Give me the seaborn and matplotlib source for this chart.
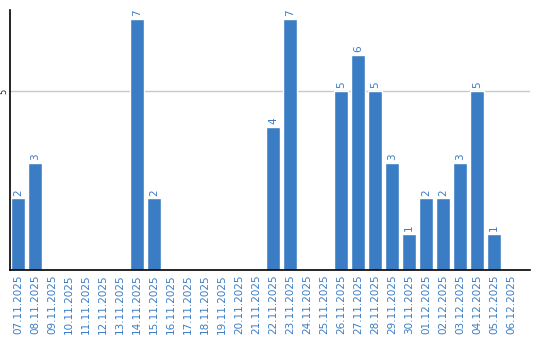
import matplotlib
matplotlib.use("Agg")
import matplotlib.pyplot as plt
import seaborn as sns
import pandas as pd

dates = ["07.11.2025", "08.11.2025", "09.11.2025", "10.11.2025", "11.11.2025",
         "12.11.2025", "13.11.2025", "14.11.2025", "15.11.2025", "16.11.2025",
         "17.11.2025", "18.11.2025", "19.11.2025", "20.11.2025", "21.11.2025",
         "22.11.2025", "23.11.2025", "24.11.2025", "25.11.2025", "26.11.2025",
         "27.11.2025", "28.11.2025", "29.11.2025", "30.11.2025", "01.12.2025",
         "02.12.2025", "03.12.2025", "04.12.2025", "05.12.2025", "06.12.2025"]
values = [2, 3, 0, 0, 0, 0, 0, 7, 2, 0,
          0, 0, 0, 0, 0, 4, 7, 0, 0, 5,
          6, 5, 3, 1, 2, 2, 3, 5, 1, 0]

df = pd.DataFrame({"date": dates, "value": values})
blue = "#3b7dc4"

sns.set_style("white")
fig = plt.figure(figsize=(5.4, 3.4), dpi=100)
ax = fig.add_axes([10/540, 70/340, 520/540, 260/340])
sns.barplot(data=df, x="date", y="value", color=blue, width=0.82, saturation=1, ax=ax)

ax.set_ylim(0, 7.26)
ax.set_xlim(-0.47, 30.12)
ax.set_yticks([5])
ax.set_yticklabels(["5"], rotation=90, va="center", fontsize=6)
ax.yaxis.grid(True, color="#c8c8c8", linewidth=1)
ax.set_axisbelow(True)
ax.tick_params(axis="both", length=0)
ax.tick_params(axis="y", pad=1)
ax.tick_params(axis="x", labelrotation=90, labelsize=7.5, labelcolor=blue, pad=3)
ax.set_xlabel("")
ax.set_ylabel("")
for s in ["top", "right"]:
    ax.spines[s].set_visible(False)
for s in ["left", "bottom"]:
    ax.spines[s].set_color("black")
    ax.spines[s].set_linewidth(1.2)

for i, v in enumerate(values):
    if v > 0:
        ax.text(i, v + 0.08, str(v), rotation=90, ha="center", va="bottom",
                fontsize=7.5, color=blue)

fig.savefig("out.png", dpi=100)
